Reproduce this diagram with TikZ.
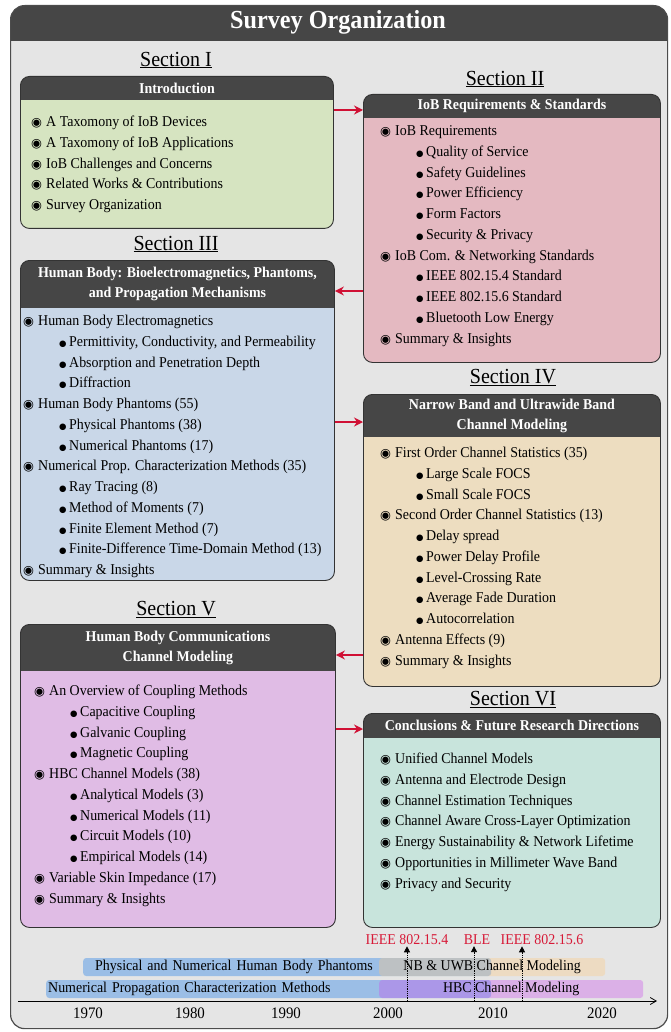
\documentclass[tikz,border=0pt]{standalone}
\usepackage{fontspec}
\setmainfont[FakeStretch=0.93]{Liberation Serif}
\newfontfamily\dvsym{DejaVu Sans}
\usetikzlibrary{arrows.meta}

\definecolor{hdrgray}{RGB}{70,70,70}
\definecolor{bggray}{RGB}{229,229,229}
\definecolor{introfill}{RGB}{214,228,193}
\definecolor{reqfill}{RGB}{228,185,193}
\definecolor{hbfill}{RGB}{201,215,232}
\definecolor{nbfill}{RGB}{237,221,192}
\definecolor{hbcfill}{RGB}{224,188,229}
\definecolor{concfill}{RGB}{200,228,220}
\definecolor{arrred}{RGB}{208,16,52}
\definecolor{labred}{RGB}{215,25,55}
\definecolor{barblue}{RGB}{155,190,230}
\definecolor{bartan}{RGB}{253,201,130}
\definecolor{barpurple}{RGB}{203,80,237}

\newcommand\itm{\strut\makebox[15pt][l]{\dvsym\fontsize{12.5}{20.75}\selectfont ◉}}
\newcommand\subitm{\strut\hspace*{36pt}\makebox[10pt][l]{\dvsym\fontsize{8.5}{20.75}\selectfont ●}}

\tikzset{
  secbox/.style={draw=black!80, line width=.9pt, rounded corners=9pt, anchor=north west, inner sep=0pt},
  hdr/.style={path picture={\fill[hdrgray, sharp corners] (path picture bounding box.north west) rectangle ([yshift=-#1]path picture bounding box.north east);}},
  hdtext/.style={text=white, font=\bfseries\fontsize{15}{20}\selectfont, align=center},
  items/.style={anchor=north west, inner sep=0pt, align=left, font=\fontsize{15}{20.75}\selectfont},
  seclabel/.style={font=\fontsize{21.5}{24}\selectfont},
  redarr/.style={draw=arrred, line width=1.8pt, -{Stealth[length=9pt,width=9pt]}},
  bar/.style={rounded corners=3pt, minimum height=18pt, inner ysep=0pt, anchor=west, font=\fontsize{15}{16}\selectfont},
  year/.style={font=\fontsize{16}{18}\selectfont},
  evlabel/.style={text=labred, font=\fontsize{15}{16}\selectfont, inner sep=1pt},
  evline/.style={densely dotted, line width=.8pt, -{Triangle[length=6pt,width=6pt]}},
}

\begin{document}
\begin{tikzpicture}[x=1pt,y=-1pt]
    \useasboundingbox (0,0) rectangle (670,1032);
    \node(frame) at (10,5) [secbox, draw=black!70, line width=1.2pt, fill=bggray, rounded corners=14pt, minimum width=657pt, minimum height=1023pt, hdr=35pt]{};
    \node(title) at (338,22) [text=white, font=\bfseries\fontsize{26}{28}\selectfont]{Survey Organization};

    % Section I
    \node(s1) at (176,60) [seclabel]{\underline{Section I}};
    \node(intro) at (20,76) [secbox, fill=introfill, minimum width=313pt, minimum height=152pt, hdr=24pt]{};
    \node(introhd) at ([yshift=-12pt]intro.north) [hdtext]{Introduction};
    \node(introls) at (31,112) [items]{\itm A Taxomony of IoB Devices\\ \itm A Taxomony of IoB Applications\\
        \itm IoB Challenges and Concerns\\ \itm Related Works \& Contributions\\ \itm Survey Organization};

    % Section II
    \node(s2) at (505,79) [seclabel]{\underline{Section II}};
    \node(req) at (363,94) [secbox, fill=reqfill, minimum width=297pt, minimum height=268pt, hdr=24pt]{};
    \node(reqhd) at ([yshift=-12pt]req.north) [hdtext]{IoB Requirements \& Standards};
    \node(reqls) at (380,121) [items]{\itm IoB Requirements\\ \subitm Quality of Service\\ \subitm Safety Guidelines\\
        \subitm Power Efficiency\\ \subitm Form Factors\\ \subitm Security \& Privacy\\
        \itm IoB Com. \& Networking Standards\\ \subitm IEEE 802.15.4 Standard\\ \subitm IEEE 802.15.6 Standard\\
        \subitm Bluetooth Low Energy\\ \itm Summary \& Insights};

    % Section III
    \node(s3) at (176,244) [seclabel]{\underline{Section III}};
    \node(hb) at (20,260) [secbox, fill=hbfill, minimum width=314pt, minimum height=320pt, hdr=48pt]{};
    \node(hbhd) at ([yshift=-24pt]hb.north) [hdtext]{Human Body: Bioelectromagnetics, Phantoms,\\ and Propagation Mechanisms};
    \node(hbls) at (23,311) [items]{\itm Human Body Electromagnetics\\ \subitm Permittivity, Conductivity, and Permeability\\
        \subitm Absorption and Penetration Depth\\ \subitm Diffraction\\ \itm Human Body Phantoms (55)\\
        \subitm Physical Phantoms (38)\\ \subitm Numerical Phantoms (17)\\ \itm Numerical Prop. Characterization Methods (35)\\
        \subitm Ray Tracing (8)\\ \subitm Method of Moments (7)\\ \subitm Finite Element Method (7)\\
        \subitm Finite-Difference Time-Domain Method (13)\\ \itm Summary \& Insights};

    % Section IV
    \node(s4) at (513,378) [seclabel]{\underline{Section IV}};
    \node(nb) at (363,394) [secbox, fill=nbfill, minimum width=297pt, minimum height=292pt, hdr=43pt]{};
    \node(nbhd) at ([yshift=-21.5pt]nb.north) [hdtext]{Narrow Band and Ultrawide Band\\ Channel Modeling};
    \node(nbls) at (380,443) [items]{\itm First Order Channel Statistics (35)\\ \subitm Large Scale FOCS\\ \subitm Small Scale FOCS\\
        \itm Second Order Channel Statistics (13)\\ \subitm Delay spread\\ \subitm Power Delay Profile\\
        \subitm Level-Crossing Rate\\ \subitm Average Fade Duration\\ \subitm Autocorrelation\\
        \itm Antenna Effects (9)\\ \itm Summary \& Insights};

    % Section V
    \node(s5) at (176,610) [seclabel]{\underline{Section V}};
    \node(hbc) at (20,624) [secbox, fill=hbcfill, minimum width=315pt, minimum height=303pt, hdr=47pt]{};
    \node(hbchd) at ([yshift=-23.5pt]hbc.north) [hdtext]{Human Body Communications\\ Channel Modeling};
    \node(hbcls) at (34,681) [items]{\itm An Overview of Coupling Methods\\ \subitm Capacitive Coupling\\ \subitm Galvanic Coupling\\
        \subitm Magnetic Coupling\\ \itm HBC Channel Models (38)\\ \subitm Analytical Models (3)\\
        \subitm Numerical Models (11)\\ \subitm Circuit Models (10)\\ \subitm Empirical Models (14)\\
        \itm Variable Skin Impedance (17)\\ \itm Summary \& Insights};

    % Section VI
    \node(s6) at (513,700) [seclabel]{\underline{Section VI}};
    \node(conc) at (363,713) [secbox, fill=concfill, minimum width=297pt, minimum height=214pt, hdr=25pt]{};
    \node(conchd) at ([yshift=-12.5pt]conc.north) [hdtext]{Conclusions \& Future Research Directions};
    \node(concls) at (380,749) [items]{\itm Unified Channel Models\\ \itm Antenna and Electrode Design\\
        \itm Channel Estimation Techniques\\ \itm Channel Aware Cross-Layer Optimization\\
        \itm Energy Sustainability \& Network Lifetime\\ \itm Opportunities in Millimeter Wave Band\\ \itm Privacy and Security};

    \draw[redarr] (intro.east |- 0,110) -- (req.west |- 0,110);
    \draw[redarr] (req.west |- 0,291) -- (hb.east |- 0,291);
    \draw[redarr] (hb.east |- 0,422) -- (nb.west |- 0,422);
    \draw[redarr] (nb.west |- 0,655) -- (hbc.east |- 0,655);
    \draw[redarr] (hbc.east |- 0,729) -- (conc.west |- 0,729);

    % timeline
    \node(phbar) at (83,967) [bar, fill=barblue, text width=384pt, inner xsep=12pt, align=left]{Physical and Numerical Human Body Phantoms};
    \node(numbar) at (46,989) [bar, fill=barblue, text width=441pt, inner xsep=2pt, align=left]{Numerical Propagation Characterization Methods};
    \node(nbbar) at (379,967) [bar, fill=bartan, fill opacity=.35, text opacity=1, minimum width=226pt]{NB \& UWB Channel Modeling};
    \node(hbcbar) at (379,989) [bar, fill=barpurple, fill opacity=.35, text opacity=1, minimum width=264pt]{HBC Channel Modeling};

    \node(ev1) at (407,940) [evlabel]{IEEE 802.15.4};
    \node(ev2) at (477,940) [evlabel]{BLE};
    \node(ev3) at (542,940) [evlabel]{IEEE 802.15.6};
    \coordinate (t1) at (407,1001);
    \coordinate (t2) at (474,1001);
    \coordinate (t3) at (522,1001);
    \draw[evline] (t1) -- (t1 |- ev1.south);
    \draw[evline] (t2) -- (t2 |- ev2.south);
    \draw[evline] (t3) -- (t3 |- ev3.south);

    \coordinate (ax0) at (18,1001);
    \coordinate (ax1) at (657,1001);
    \draw[line width=.8pt, -{Straight Barb[length=6pt,width=7pt]}] (ax0) -- (ax1);
    \node(y70) at (88,1013) [year]{1970};
    \node(y80) at (190,1013) [year]{1980};
    \node(y90) at (286,1013) [year]{1990};
    \node(y00) at (388,1013) [year]{2000};
    \node(y10) at (493,1013) [year]{2010};
    \node(y20) at (602,1013) [year]{2020};
\end{tikzpicture}
\end{document}
